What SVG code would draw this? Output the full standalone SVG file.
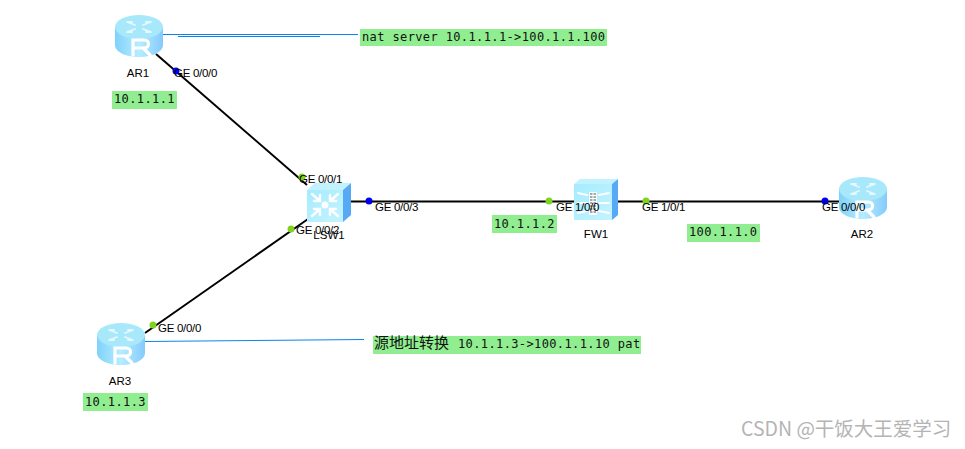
<svg xmlns="http://www.w3.org/2000/svg" width="965" height="449" viewBox="0 0 965 449">
<style>
.lbl{font:11.500px "Liberation Sans",Arial,sans-serif;fill:#000}
.port{font:11.500px "Liberation Sans",Arial,sans-serif;fill:#000;letter-spacing:-.3px}
.mono{font:12px "DejaVu Sans Mono","Liberation Mono",monospace;fill:#111;letter-spacing:.38px}
.bg{fill:#90ee90}
.link{stroke:#000;stroke-width:2;fill:none}
.note{stroke:#0a84f0;stroke-width:1;fill:none}
.blue{fill:#0000ee}
.green{fill:#7ed321}
.g{fill:none;stroke:#fff;stroke-linecap:round}
</style>
<defs>
<linearGradient id="body" x1="0" x2="1" y1="0" y2="0"><stop offset="0" stop-color="#7fd2fb"/><stop offset=".5" stop-color="#b6ecff"/><stop offset="1" stop-color="#84cbfb"/></linearGradient>
<linearGradient id="face" x1="0" x2="1" y1="0" y2="1"><stop offset="0" stop-color="#a5ecff"/><stop offset="1" stop-color="#c4f3ff"/></linearGradient>
<g id="router">
<path d="M0 12V30C0 37 11 42 24 42S48 37 48 30V12Z" fill="url(#body)"/>
<ellipse cx="24" cy="12" rx="24" ry="12" fill="#a8e8fb"/>
<path d="M12 7L20 10M13 7H17M36 7L28 10M35 7H31M12 17L20 14M13 17H17M36 17L28 14M35 17H31" class="g" stroke-width="1.800" opacity=".7"/>
<path d="M18 40V25H29C35 25 35 33 29 33H18M28 33L35 40" class="g" stroke-width="3.200" stroke-linecap="butt"/>
</g>
<g id="switch">
<path d="M0 7L8 0H44L36 7Z" fill="#c2f2ff"/>
<path d="M36 7L44 0V32L36 39Z" fill="#57a9f5"/>
<rect y="7" width="36" height="32" fill="url(#face)"/>
<circle cx="18" cy="22" r="3.500" fill="#fff"/>
<path d="M5 11L13 18M13 12V18H7M31 11L23 18M23 12V18H29M5 33L13 26M7 26H13V32M31 33L23 26M29 26H23V32" class="g" stroke-width="2.400"/>
</g>
<g id="firewall">
<path d="M0 5L6 0H44L38 5Z" fill="#c2f2ff"/>
<path d="M38 5L44 0V36L38 41Z" fill="#57a9f5"/>
<rect y="5" width="38" height="36" fill="url(#face)"/>
<path d="M15 13H23V36H15Z" fill="#fff"/>
<path d="M16 15H22M16 18H22M16 21H22M16 24H22M16 27H22M16 30H22M16 33H22" stroke="#7d8f96" stroke-width="1.600" stroke-dasharray="2.500 1" fill="none"/>
<path d="M4 14L13 16M4 24H13M4 34L13 32M25 16L35 14M25 24H35M25 32L35 34" class="g" stroke-width="1.800"/>
</g>
</defs>

<g id="connectors">
<path class="link" d="M156 54L307 185"/>
<path class="link" d="M308 219L145 333"/>
<path class="link" d="M351 201.500H574"/>
<path class="link" d="M618 201.500H839"/>
<path class="note" d="M163 34.500H358"/>
<path class="note" d="M178 36.500H320"/>
<path class="note" d="M145 341.500L364 339.500"/>
<circle class="blue" cx="176" cy="71" r="3.500"/>
<circle class="green" cx="302" cy="177" r="3.500"/>
<circle class="green" cx="291" cy="229" r="3.500"/>
<circle class="green" cx="153" cy="325" r="3.500"/>
<circle class="blue" cx="369" cy="201" r="3.500"/>
<circle class="green" cx="549" cy="201" r="3.500"/>
<circle class="green" cx="646" cy="201" r="3.500"/>
<circle class="blue" cx="825" cy="201" r="3.500"/>
</g>

<g id="AR1"><use href="#router" x="115" y="15"/><text class="lbl" x="138" y="77" text-anchor="middle">AR1</text></g>
<g id="LSW1"><use href="#switch" x="307" y="183"/><text class="lbl" x="329" y="239" text-anchor="middle">LSW1</text></g>
<g id="FW1"><use href="#firewall" x="574" y="179"/><text class="lbl" x="596" y="238" text-anchor="middle">FW1</text></g>
<g id="AR2"><use href="#router" x="839" y="177"/><text class="lbl" x="862" y="238" text-anchor="middle">AR2</text></g>
<g id="AR3"><use href="#router" x="97" y="323"/><text class="lbl" x="120" y="385" text-anchor="middle">AR3</text></g>

<g id="port-labels">
<text class="port" x="174" y="77">GE 0/0/0</text>
<text class="port" x="299" y="183">GE 0/0/1</text>
<text class="port" x="296" y="234">GE 0/0/2</text>
<text class="port" x="375" y="211">GE 0/0/3</text>
<text class="port" x="556" y="211">GE 1/0/0</text>
<text class="port" x="642" y="211">GE 1/0/1</text>
<text class="port" x="822" y="211">GE 0/0/0</text>
<text class="port" x="158" y="332">GE 0/0/0</text>
</g>

<g id="notes">
<rect class="bg" x="112" y="91" width="65" height="18"/>
<text class="mono" x="114" y="103">10.1.1.1</text>
<rect class="bg" x="492" y="215" width="65" height="18"/>
<text class="mono" x="494" y="228">10.1.1.2</text>
<rect class="bg" x="687" y="224" width="73" height="18"/>
<text class="mono" x="689" y="236">100.1.1.0</text>
<rect class="bg" x="83" y="393" width="65" height="18"/>
<text class="mono" x="85" y="406">10.1.1.3</text>
<rect class="bg" x="360" y="29" width="247" height="17"/>
<text class="mono" x="362" y="41">nat server 10.1.1.1-&gt;100.1.1.100</text>
<rect class="bg" x="373" y="336" width="268" height="18"/>
<text x="374" y="348" font-family="'Noto Sans CJK SC',sans-serif" font-size="15" fill="#111">源地址转换</text>
<text class="mono" x="458" y="348">10.1.1.3-&gt;100.1.1.10 pat</text>
</g>
<text id="watermark" x="741" y="436" font-family="'Noto Sans CJK SC','Liberation Sans',sans-serif" font-size="19.500" fill="#b4b4b4">CSDN @干饭大王爱学习</text>
</svg>
